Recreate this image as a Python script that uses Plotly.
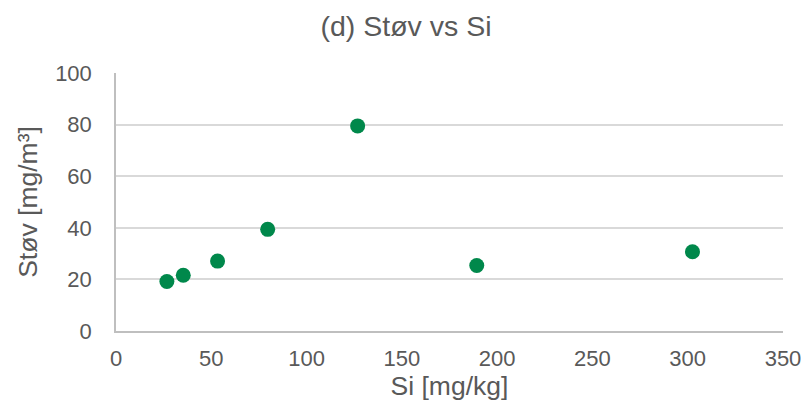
import plotly.graph_objects as go

si_mg_kg = [26.7, 35.3, 53.3, 79.6, 126.8, 189.3, 302.5]
stov_mg_m3 = [19.2, 21.6, 27.1, 39.4, 79.5, 25.4, 30.7]

title_text = "(d) Støv vs Si"
x_title = "Si [mg/kg]"
y_title = "Støv [mg/m³]"
x_ticks = [0, 50, 100, 150, 200, 250, 300, 350]
y_ticks = [0, 20, 40, 60, 80, 100]

text_color = "#595959"
font_family = "Arial, Liberation Sans, sans-serif"

fig = go.Figure()
fig.add_trace(go.Scatter(
    x=si_mg_kg, y=stov_mg_m3, mode="markers",
    marker=dict(size=15, color="#00884B", line=dict(width=0)),
    showlegend=False,
))

fig.update_layout(
    width=812, height=412,
    margin=dict(l=116, r=29, t=73, b=81, autoexpand=False),
    paper_bgcolor="white", plot_bgcolor="white",
    font=dict(family=font_family, color=text_color),
    title=dict(text=title_text, x=0.5, xanchor="center", xref="container",
               y=1 - 26 / 412, yref="container", yanchor="middle",
               font=dict(size=28.5, color=text_color, family=font_family)),
)

fig.update_xaxes(
    range=[0, 350], tickvals=x_ticks, ticktext=[str(v) for v in x_ticks],
    showgrid=False, zeroline=False,
    showline=True, linecolor="#BFBFBF", linewidth=1.5,
    ticks="", tickfont=dict(size=22, color=text_color),
    ticklabelstandoff=7,
    title=dict(text=x_title, font=dict(size=26.5, color=text_color), standoff=6),
    automargin=False,
)
fig.update_yaxes(
    range=[0, 100], tickvals=y_ticks, ticktext=[str(v) for v in y_ticks],
    showgrid=True, gridcolor="#D9D9D9", gridwidth=1.5,
    zeroline=False,
    showline=True, linecolor="#BFBFBF", linewidth=1.5,
    ticks="", tickfont=dict(size=22, color=text_color),
    ticklabelstandoff=18,
    title=dict(text=y_title, font=dict(size=26.5, color=text_color), standoff=10),
    automargin=False,
)

fig.write_html("out.html")
